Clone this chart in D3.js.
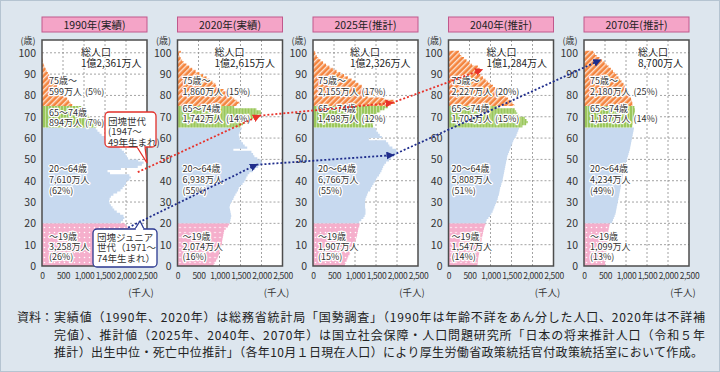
<!DOCTYPE html>
<html lang="ja">
<head>
<meta charset="utf-8">
<script src="https://cdn.jsdelivr.net/npm/d3@7"></script>
<style>
  body { margin: 0; background: #fff; }
  svg text { font-family: "Noto Sans CJK JP", "Noto Sans", sans-serif; }
</style>
</head>
<body>
<div id="chart"></div>
<script>
// population by single year of age (thousands), ages 0..100 (100 = 100+)
let pop1990 = [
  1226, 1252, 1295, 1333, 1381, 1418, 1455, 1486, 1507, 1564,
  1611, 1666, 1721, 1780, 1854, 1924, 1996, 2049, 2026, 1975,
  1880, 1930, 1960, 1940, 1860, 1780, 1720, 1680, 1640, 1610,
  1600, 1610, 1640, 1700, 1790, 1870, 1920, 1960, 2000, 2010,
  2080, 2120, 2080, 1620, 1560, 1880, 2280, 2380, 2420, 2290,
  2050, 2020, 1990, 1950, 1900, 1850, 1800, 1740, 1660, 1560,
  1480, 1420, 1370, 1320, 1280, 1300, 1260, 1220, 1180, 1130,
  1100, 1060, 1020, 980, 940, 720, 680, 640, 600, 560,
  520, 480, 440, 400, 360, 320, 280, 240, 200, 170,
  140, 110, 85, 60, 40, 25, 15, 10, 6, 4,
  3];
let pop2020 = [
  860, 890, 920, 950, 970, 990, 1000, 1010, 1030, 1040,
  1060, 1060, 1070, 1080, 1090, 1100, 1110, 1150, 1200, 1230,
  1250, 1260, 1270, 1280, 1270, 1260, 1250, 1240, 1250, 1270,
  1300, 1330, 1350, 1380, 1410, 1440, 1460, 1500, 1550, 1590,
  1620, 1640, 1670, 1710, 1790, 1850, 1920, 1980, 2010, 1990,
  1900, 1830, 1800, 1760, 1330, 1660, 1600, 1560, 1520, 1480,
  1470, 1460, 1480, 1500, 1530, 1500, 1560, 1630, 1720, 1810,
  1900, 1990, 1980, 1880, 1350, 1420, 1480, 1420, 1350, 1290,
  1250, 1170, 1100, 1000, 920, 900, 830, 760, 690, 610,
  520, 430, 350, 280, 215, 150, 110, 75, 52, 35,
  80];
let pop2025 = [
  760, 780, 800, 820, 840, 870, 900, 930, 960, 980,
  980, 1000, 1020, 1040, 1050, 1060, 1070, 1080, 1100, 1110,
  1100, 1150, 1200, 1230, 1250, 1250, 1250, 1240, 1240, 1240,
  1240, 1250, 1270, 1290, 1310, 1360, 1380, 1410, 1440, 1470,
  1500, 1530, 1570, 1600, 1630, 1650, 1670, 1700, 1740, 1810,
  1860, 1930, 1990, 2010, 1980, 1890, 1820, 1790, 1740, 1330,
  1640, 1590, 1550, 1510, 1480, 1430, 1420, 1460, 1440, 1430,
  1460, 1520, 1600, 1700, 1780, 1850, 1950, 1920, 1700, 1300,
  1450, 1380, 1310, 1240, 1160, 1080, 1000, 920, 830, 740,
  650, 560, 470, 390, 310, 240, 180, 130, 90, 60,
  50];
let pop2040 = [
  690, 695, 700, 705, 715, 725, 735, 745, 755, 765,
  775, 785, 790, 800, 810, 820, 830, 845, 860, 880,
  890, 910, 950, 990, 1020, 1050, 1070, 1090, 1110, 1130,
  1150, 1170, 1180, 1200, 1210, 1220, 1230, 1250, 1260, 1280,
  1290, 1300, 1310, 1320, 1330, 1340, 1350, 1360, 1370, 1380,
  1390, 1400, 1420, 1440, 1460, 1480, 1500, 1520, 1540, 1560,
  1600, 1620, 1640, 1660, 1680, 1760, 1850, 1890, 1860, 1820,
  1680, 1640, 1610, 1580, 1160, 1570, 1520, 1470, 1420, 1370,
  1230, 1190, 1150, 1110, 1060, 1000, 940, 880, 820, 760,
  700, 760, 740, 700, 560, 500, 430, 370, 310, 270,
  250];
let pop2070 = [
  500, 505, 510, 515, 520, 525, 530, 535, 540, 545,
  550, 555, 560, 565, 570, 575, 580, 590, 600, 610,
  670, 690, 710, 730, 750, 760, 770, 780, 790, 800,
  810, 820, 830, 840, 850, 860, 870, 880, 890, 900,
  910, 920, 930, 940, 950, 960, 970, 985, 1000, 1015,
  1030, 1045, 1060, 1075, 1090, 1100, 1110, 1120, 1130, 1140,
  1150, 1160, 1170, 1180, 1190, 1150, 1160, 1170, 1180, 1190,
  1190, 1200, 1210, 1210, 1200, 1160, 1150, 1140, 1120, 1100,
  1080, 1060, 1030, 1000, 970, 940, 900, 860, 820, 780,
  740, 690, 640, 590, 540, 490, 430, 370, 310, 260,
  220];

let panelTitles = ["1990年(実績)", "2020年(実績)", "2025年(推計)", "2040年(推計)", "2070年(推計)"];
let totalLabels = ["1億2,361万人", "1億2,615万人", "1億2,326万人", "1億1,284万人", "8,700万人"];
let old75Labels = ["599万人", "1,860万人", "2,155万人", "2,227万人", "2,180万人"];
let old75Pct = ["(5%)", "(15%)", "(17%)", "(20%)", "(25%)"];
let old65Labels = ["894万人", "1,742万人", "1,498万人", "1,701万人", "1,187万人"];
let old65Pct = ["(7%)", "(14%)", "(12%)", "(15%)", "(14%)"];
let workLabels = ["7,610万人", "6,938万人", "6,766万人", "5,808万人", "4,234万人"];
let workPct = ["(62%)", "(55%)", "(55%)", "(51%)", "(49%)"];
let youngLabels = ["3,258万人", "2,074万人", "1,907万人", "1,547万人", "1,099万人"];
let youngPct = ["(26%)", "(16%)", "(15%)", "(14%)", "(13%)"];

let xTicks = [0, 500, 1000, 1500, 2000, 2500];
let yTicks = [0, 10, 20, 30, 40, 50, 60, 70, 80, 90, 100];

// cohorts followed across panels: panel index, age, population (thousands)
let boomers = [
  {panel: 0, age: 44, pop: 2280},
  {panel: 1, age: 70.5, pop: 1950},
  {panel: 2, age: 76.5, pop: 1880},
  {panel: 3, age: 92, pop: 790}
];
let juniors = [
  {panel: 0, age: 18, pop: 2050},
  {panel: 1, age: 47.5, pop: 1880},
  {panel: 2, age: 52, pop: 1900},
  {panel: 4, age: 96.5, pop: 380}
];

let footnote = [
  "実績値（1990年、2020年）は総務省統計局「国勢調査」（1990年は年齢不詳をあん分した人口、2020年は不詳補",
  "完値）、推計値（2025年、2040年、2070年）は国立社会保障・人口問題研究所「日本の将来推計人口（令和５年",
  "推計）出生中位・死亡中位推計」（各年10月１日現在人口）により厚生労働省政策統括官付政策統括室において作成。"
];

let allPops = [pop1990, pop2020, pop2025, pop2040, pop2070];

let svgWidth = 720;
let svgHeight = 372;
let plotW = 105;
let plotTop = 40;
let plotBottom = 266;

let panelLeft = d3.scaleLinear().domain([0, 4]).range([42, 584]);
let xScale = d3.scaleLinear().domain([0, 2500]).range([0, plotW]);
let yScale = d3.scaleLinear().domain([0, 106]).range([plotBottom, plotTop]);

let svg = d3.select("#chart")
  .append("svg")
  .attr("width", svgWidth)
  .attr("height", svgHeight);

svg.append("rect")
  .attr("x", 0.5).attr("y", 0.5)
  .attr("width", svgWidth - 1).attr("height", svgHeight - 1)
  .attr("fill", "#dde6ee")
  .attr("stroke", "#b5c4d1");

// patterns
let defs = svg.append("defs");

let dots = defs.append("pattern").attr("id", "dots")
  .attr("patternUnits", "userSpaceOnUse").attr("width", 5).attr("height", 5);
dots.append("rect").attr("width", 5).attr("height", 5).attr("fill", "#f5afcc");
dots.append("circle").attr("cx", 2.5).attr("cy", 2.5).attr("r", 0.8).attr("fill", "#fff");

let stripes = defs.append("pattern").attr("id", "stripes")
  .attr("patternUnits", "userSpaceOnUse").attr("width", 3).attr("height", 3);
stripes.append("rect").attr("width", 3).attr("height", 3).attr("fill", "#9bc75d");
stripes.append("rect").attr("width", 1).attr("height", 3).attr("fill", "#c3df9b");

let hatch = defs.append("pattern").attr("id", "hatch")
  .attr("patternUnits", "userSpaceOnUse").attr("width", 4).attr("height", 4)
  .attr("patternTransform", "rotate(45)");
hatch.append("rect").attr("width", 4).attr("height", 4).attr("fill", "#f4843e");
hatch.append("rect").attr("width", 1.4).attr("height", 4).attr("fill", "#fde3d2");

function addMarker(id, color) {
  defs.append("marker").attr("id", id)
    .attr("viewBox", "0 0 10 10").attr("refX", 8).attr("refY", 5)
    .attr("markerWidth", 8).attr("markerHeight", 8)
    .attr("markerUnits", "userSpaceOnUse")
    .attr("orient", "auto")
    .append("path").attr("d", "M0,0 L10,5 L0,10 z").attr("fill", color);
}
addMarker("arrowRed", "#e8322a");
addMarker("arrowNavy", "#1f2d8c");

let groups = [
  {from: 0, to: 19, fill: "url(#dots)"},
  {from: 20, to: 64, fill: "#c7d9ef"},
  {from: 65, to: 74, fill: "url(#stripes)"},
  {from: 75, to: 100, fill: "url(#hatch)"}
];

let area = d3.area()
  .y(d => yScale(d.age))
  .x0(xScale(0))
  .x1(d => xScale(d.pop));

function stepPoints(values, from, to) {
  let pts = [];
  for (let a = from; a <= to; a++) {
    pts.push({age: a, pop: values[a]});
    pts.push({age: a + 1, pop: values[a]});
  }
  return pts;
}

// one text element per label block; each line is [text] or [text, pct]
function labelBlock(g, x, yCenters, lines, size, halo) {
  size = size || 9;
  let t = g.append("text")
    .attr("font-size", size)
    .attr("fill", "#333");
  if (halo !== false) {
    t.attr("stroke", "#fff").attr("stroke-width", 2.5)
      .attr("stroke-linejoin", "round")
      .attr("paint-order", "stroke");
  }
  lines.forEach((ln, k) => {
    t.append("tspan")
      .attr("x", x).attr("y", yCenters[k] + size * 0.36)
      .text(ln[0]);
    if (ln[1]) t.append("tspan").attr("dx", 3).text(ln[1]);
  });
  return t;
}

// label layout per panel
let labelDx = [7, 5, 5, 3, 6];
let totalDx = [39, 37, 37, 38, 54];

allPops.forEach((values, i) => {
  let left = panelLeft(i);
  let g = svg.append("g").attr("transform", `translate(${left},0)`);

  // title box
  g.append("rect")
    .attr("x", 0).attr("y", 17).attr("width", plotW).attr("height", 15)
    .attr("fill", "#f4a4c7").attr("stroke", "#c0588c").attr("stroke-width", 1);
  g.append("text")
    .attr("x", plotW / 2).attr("y", 24.5)
    .attr("text-anchor", "middle").attr("dominant-baseline", "central")
    .attr("font-size", 10.5).attr("fill", "#222")
    .text(panelTitles[i]);

  // plot background
  g.append("rect")
    .attr("x", 0).attr("y", plotTop)
    .attr("width", plotW).attr("height", plotBottom - plotTop)
    .attr("fill", "#fff");

  // grid
  g.selectAll(".vgrid")
    .data(xTicks.slice(1, -1))
    .enter().append("line")
    .attr("x1", d => xScale(d)).attr("x2", d => xScale(d))
    .attr("y1", plotTop).attr("y2", plotBottom)
    .attr("stroke", "#8c8c8c").attr("stroke-width", 0.8)
    .attr("stroke-dasharray", "2,2");
  g.selectAll(".hgrid")
    .data(yTicks.slice(1))
    .enter().append("line")
    .attr("x1", 0).attr("x2", plotW)
    .attr("y1", d => yScale(d)).attr("y2", d => yScale(d))
    .attr("stroke", "#8c8c8c").attr("stroke-width", 0.8)
    .attr("stroke-dasharray", "2,2");

  // pyramid bars, one stepped area per age group
  g.selectAll(".grp")
    .data(groups)
    .enter().append("path")
    .attr("d", grp => area(stepPoints(values, grp.from, grp.to)))
    .attr("fill", grp => grp.fill);

  // border
  g.append("rect")
    .attr("x", 0).attr("y", plotTop)
    .attr("width", plotW).attr("height", plotBottom - plotTop)
    .attr("fill", "none").attr("stroke", "#4d4d4d").attr("stroke-width", 1.5);

  // axes
  let yAxis = d3.axisLeft(yScale).tickValues(yTicks).tickSize(0).tickPadding(6);
  let ya = g.append("g").call(yAxis);
  ya.select(".domain").remove();
  ya.selectAll("text").attr("font-size", 10.5).attr("fill", "#333")
    .attr("font-family", "\"Noto Sans CJK JP\", sans-serif");

  let xAxis = d3.axisBottom(xScale).tickValues(xTicks)
    .tickFormat(d3.format(",")).tickSize(0).tickPadding(7);
  let xa = g.append("g").attr("transform", `translate(0,${plotBottom})`).call(xAxis);
  xa.select(".domain").remove();
  xa.selectAll("text").attr("font-size", 8.5).attr("fill", "#333")
    .attr("letter-spacing", "-0.3px")
    .attr("font-family", "\"Noto Sans CJK JP\", sans-serif");

  g.append("text")
    .attr("x", -14).attr("y", 40)
    .attr("text-anchor", "middle").attr("dominant-baseline", "central")
    .attr("font-size", 9).attr("fill", "#333")
    .text("(歳)");
  g.append("text")
    .attr("x", plotW - 6).attr("y", 292)
    .attr("text-anchor", "middle").attr("dominant-baseline", "central")
    .attr("font-size", 9.5).attr("fill", "#333")
    .text("(千人)");

  // total population
  labelBlock(g, totalDx[i], [52, 63], [["総人口"], [totalLabels[i]]], 10).attr("fill", "#222");

  // group labels
  let lx = labelDx[i];
  let o65 = i === 0 ? [113, 123] : [109, 119];
  labelBlock(g, lx, [81, 91.5], [["75歳～"], [old75Labels[i], old75Pct[i]]]);
  labelBlock(g, lx, o65, [["65～74歳"], [old65Labels[i], old65Pct[i]]]);
  labelBlock(g, lx, [169, 180, 191], [["20～64歳"], [workLabels[i]], [workPct[i]]]);
  labelBlock(g, lx, [237, 247, 257], [["～19歳"], [youngLabels[i]], [youngPct[i]]]);
});

// cohort arrows
function cohortPoint(d) {
  return [panelLeft(d.panel) + xScale(d.pop), yScale(d.age)];
}
function drawCohort(points, color, marker) {
  let segs = d3.pairs(points);
  svg.selectAll(null)
    .data(segs)
    .enter().append("line")
    .attr("x1", s => cohortPoint(s[0])[0]).attr("y1", s => cohortPoint(s[0])[1])
    .attr("x2", s => cohortPoint(s[1])[0]).attr("y2", s => cohortPoint(s[1])[1])
    .attr("stroke", color).attr("stroke-width", 1.8)
    .attr("stroke-dasharray", "2,2")
    .attr("marker-end", `url(#${marker})`);
}
drawCohort(boomers, "#e8322a", "arrowRed");
drawCohort(juniors, "#1f2d8c", "arrowNavy");

// callouts in the 1990 panel
function callout(bx, by, bw, bh, tail, color, lines, tx, ty) {
  let c = svg.append("g");
  c.append("rect")
    .attr("x", bx).attr("y", by).attr("width", bw).attr("height", bh)
    .attr("rx", 4).attr("fill", "#fff")
    .attr("stroke", color).attr("stroke-width", 1.3);
  c.append("path")
    .attr("d", d3.line()(tail))
    .attr("fill", "#fff").attr("stroke", color).attr("stroke-width", 1.3);
  c.append("line")
    .attr("x1", tail[0][0] + 0.8).attr("x2", tail[2][0] - 0.8)
    .attr("y1", tail[0][1]).attr("y2", tail[2][1])
    .attr("stroke", "#fff").attr("stroke-width", 2);
  labelBlock(c, tx, lines.map((l, k) => ty + k * 10.3), lines.map(l => [l]), 9.5, false);
}
callout(105, 112, 51, 35, [[137, 147], [147, 163], [145, 147]], "#e2302a",
  ["団塊世代", "(1947～", "49年生まれ)"], 108, 121.5);
callout(93, 229, 64, 38, [[135, 229], [140, 221], [144, 229]], "#2b3990",
  ["団塊ジュニア", "世代（1971～", "74年生まれ）"], 97, 237.5);

// source note
let note = svg.append("g").attr("font-size", 12).attr("fill", "#222");
note.append("text").attr("x", 17).attr("y", 322).text("資料：");
footnote.forEach((t, k) => {
  note.append("text")
    .attr("x", 54).attr("y", 322 + k * 17.5)
    .attr("textLength", k === 2 ? 649 : 651)
    .attr("lengthAdjust", "spacing")
    .text(t);
});
</script>
</body>
</html>
